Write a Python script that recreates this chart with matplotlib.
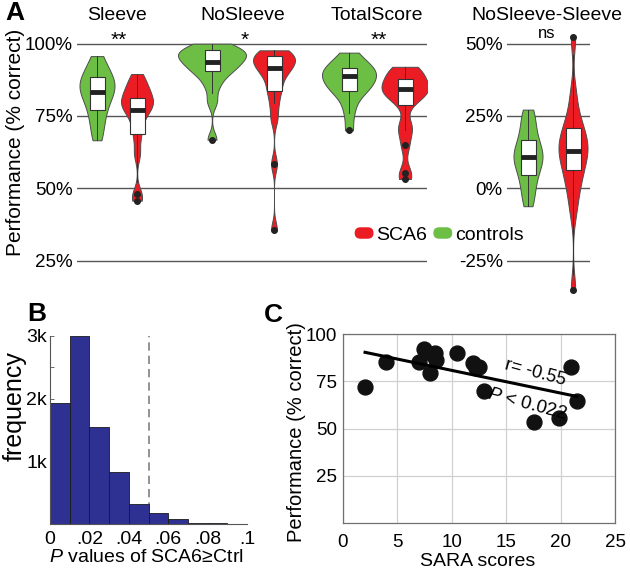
import numpy as np
import matplotlib
matplotlib.use("Agg")
import matplotlib.pyplot as plt
from matplotlib.patches import Patch, FancyBboxPatch
from matplotlib.legend_handler import HandlerPatch

plt.rcParams['font.family'] = ['Liberation Sans', 'DejaVu Sans']
plt.rcParams['mathtext.fontset'] = 'custom'
plt.rcParams['mathtext.it'] = 'Liberation Sans:italic'
plt.rcParams['mathtext.rm'] = 'Liberation Sans'

# ---------------- data ----------------
# panel A, per-subject performance (% correct), estimated from the violins
conditions = ["Sleeve", "NoSleeve", "TotalScore"]
signif = ["**", "*", "**"]
sleeve_ctrl = [66.6, 70, 73, 76, 78, 80, 82, 83, 84, 85, 86, 87, 88, 89, 91, 93, 95.7]
sleeve_sca6 = [45.7, 48, 62, 68, 72, 75, 77, 78, 79, 80, 81, 82, 84, 85, 87, 89.5]
nosleeve_ctrl = [66.8, 80, 85, 88, 90, 91, 92, 93, 94, 95, 95.5, 96, 97, 97.5, 98, 99, 100]
nosleeve_sca6 = [35.6, 58.4, 74, 79, 83, 85, 88, 90, 91, 92, 93, 94, 95, 95.5, 96, 97, 97.7]
total_ctrl = [70, 76, 80, 83, 84, 85, 86, 87, 88, 89, 90, 90.5, 91, 92, 93, 95, 96.9]
diff_ctrl = [-6.2, -3, 0, 3, 5, 7, 9, 10, 11, 12, 13, 15, 17, 19, 22, 25, 27.2]
diff_sca6 = [-35, -8, -2, 2, 5, 7, 10, 12, 13, 14, 16, 18, 20, 22, 26, 33, 52.2]

# box statistics: q1, median, q3, whisker low, whisker high, outliers
box_q1 = [77.1, 68.8, 90.7, 83.6, 83.6, 78.9]
box_med = [83.4, 77.1, 93.7, 91.7, 88.9, 84.2]
box_q3 = [88.4, 81.1, 97.8, 95.7, 91.7, 87.8]
box_lo = [66.6, 52, 82.8, 79.4, 76, 70]
box_hi = [95.7, 89.5, 100, 97.7, 96.9, 91.9]
box_out = [[], [48, 45.7], [66.8], [58.4, 35.6], [70], [65, 55.2, 53.1]]
dbox_q1 = [4.5, 6.2]
dbox_med = [10.9, 12.8]
dbox_q3 = [16.8, 20.9]
dbox_lo = [-6.2, -30]
dbox_hi = [27.2, 46]
dbox_out = [[], [52.2, -35]]

# panel B, histogram of P values
p_bins = [0, .01, .02, .03, .04, .05, .06, .07, .08, .09]
p_counts = [1930, 3000, 1545, 840, 320, 185, 85, 27, 16, 5]

# panel C, SCA6 total score vs SARA
sara = [2.05, 4.0, 7.0, 7.5, 8.0, 8.2, 8.5, 8.6, 10.5, 12.0, 12.2, 12.5, 13.0, 17.6, 19.9, 21.0, 21.5]
perf = [71.9, 85.5, 85.5, 92.0, 79.3, 89.5, 90.3, 86.4, 89.9, 84.6, 82.0, 82.8, 70.0, 53.2, 55.5, 82.5, 64.8]

GREEN = '#6dbe45'
RED = '#ec1c24'
NAVY = '#2e3192'
EDGE = '#4d4d4d'

W, H = 630, 577
fig = plt.figure(figsize=(W / 100, H / 100), dpi=100)


def rect(x0, y0, x1, y1):
    # pixel box -> figure fraction
    return [x0 / W, 1 - y1 / H, (x1 - x0) / W, (y1 - y0) / H]


def violins(ax, sets, pos, widths, bws, colors):
    for obs, x, w, bw, c in zip(sets, pos, widths, bws, colors):
        obs = np.asarray(obs, float)
        parts = ax.violinplot([obs], positions=[x], widths=[w], showextrema=False,
                              bw_method=bw / obs.std(ddof=1), points=200)
        b = parts['bodies'][0]
        b.set_facecolor(c)
        b.set_edgecolor(EDGE)
        b.set_linewidth(0.7)
        b.set_alpha(1)


def boxes(ax, pos, q1, med, q3, lo, hi, out):
    stats = [dict(q1=a, med=m, q3=b, whislo=l, whishi=h, fliers=f)
             for a, m, b, l, h, f in zip(q1, med, q3, lo, hi, out)]
    ax.bxp(stats, positions=pos, widths=15, patch_artist=True, showcaps=False,
           manage_ticks=False,
           boxprops=dict(facecolor='white', edgecolor='#333333', linewidth=0.8),
           medianprops=dict(color='#222222', linewidth=3.5, solid_capstyle='butt'),
           whiskerprops=dict(color='#333333', linewidth=0.7),
           flierprops=dict(marker='o', markerfacecolor='#222222',
                           markeredgecolor='#222222', markersize=4))


def grid_axis(ax):
    for s in ax.spines.values():
        s.set_visible(False)
    ax.tick_params(length=0, labelsize=13.5, pad=3)
    ax.set_xticks([])
    ax.yaxis.grid(True, color='#555555', linewidth=1)
    ax.set_axisbelow(True)


# ---------------- panel A ----------------
axA = fig.add_axes(rect(77, 26.3, 427, 296))
axA.set_xlim(0, 350)
axA.set_ylim(12.76, 106)
grid_axis(axA)
axA.set_yticks([25, 50, 75, 100])
axA.set_yticklabels(['25%', '50%', '75%', '100%'])

posA = [20, 60, 135, 197, 272, 328]
violins(axA, [sleeve_ctrl, sleeve_sca6, nosleeve_ctrl, nosleeve_sca6, total_ctrl, perf],
        posA, [35, 32, 68, 42, 54, 47], [4.0, 2.8, 2.4, 2.8, 3.0, 3.0],
        [GREEN, RED] * 3)
boxes(axA, posA, box_q1, box_med, box_q3, box_lo, box_hi, box_out)

for i, (name, st) in enumerate(zip(conditions, signif)):
    xc = (posA[2 * i] + posA[2 * i + 1]) / 2
    axA.text(xc, 109.6, name, ha='center', va='center', fontsize=14, clip_on=False)
    axA.text(xc + 2, 101.0, st, ha='center', va='center', fontsize=15, clip_on=False)

axD = fig.add_axes(rect(507, 26.3, 590, 296))
axD.set_xlim(0, 83)
axD.set_ylim(-37.24, 56)
grid_axis(axD)
axD.set_yticks([-25, 0, 25, 50])
axD.set_yticklabels(['-25%', '0%', '25%', '50%'])
posD = [21, 66]
violins(axD, [diff_ctrl, diff_sca6], posD, [29, 29], [4.0, 5.0], [GREEN, RED])
boxes(axD, posD, dbox_q1, dbox_med, dbox_q3, dbox_lo, dbox_hi, dbox_out)
axD.text(40, 59.6, "NoSleeve-Sleeve", ha='center', va='center', fontsize=14, clip_on=False)
axD.text(40, 53.5, "ns", ha='center', va='center', fontsize=12, clip_on=False)

fig.text(16 / W, 1 - 142 / H, 'Performance (% correct)', rotation=90,
         ha='center', va='center', fontsize=15)


class HandlerPill(HandlerPatch):
    def create_artists(self, legend, orig_handle, xdescent, ydescent,
                       width, height, fontsize, trans):
        h = height * 0.74
        p = FancyBboxPatch((-xdescent, -ydescent + (height - h) / 2), width, h,
                           boxstyle=f"round,pad=0,rounding_size={h / 2}",
                           facecolor=orig_handle.get_facecolor(),
                           edgecolor=orig_handle.get_facecolor(), transform=trans)
        return [p]


fig.legend(handles=[Patch(facecolor=RED), Patch(facecolor=GREEN)],
           labels=['SCA6', 'controls'], handler_map={Patch: HandlerPill()},
           loc='center', bbox_to_anchor=(439.5 / W, 1 - 235 / H), ncol=2,
           frameon=False, fontsize=14, handlelength=0.9, handletextpad=0.18,
           columnspacing=0.35, borderpad=0)

# ---------------- panel B ----------------
axB = fig.add_axes(rect(50, 336, 247, 524.3))
axB.bar(p_bins, p_counts, width=0.01, align='edge', color=NAVY,
        edgecolor='#1a1a1a', linewidth=0.6, zorder=2)
axB.axvline(0.05, color='#808080', linestyle=(0, (5, 3)), linewidth=1.2, zorder=1)
axB.set_xlim(0, 0.1)
axB.set_ylim(0, 3000)
for s in ['top', 'right']:
    axB.spines[s].set_visible(False)
for s in ['left', 'bottom']:
    axB.spines[s].set_color('#555555')
    axB.spines[s].set_linewidth(0.8)
axB.set_xticks([0, .02, .04, .06, .08, .1])
axB.set_xticklabels(['0', '.02', '.04', '.06', '.08', '.1'])
axB.set_yticks([1000, 2000, 3000])
axB.set_yticklabels(['1k', '2k', '3k'])
axB.set_yticks([500, 1500, 2500], minor=True)
axB.tick_params(axis='x', length=0, labelsize=14, pad=5)
axB.tick_params(axis='y', which='both', direction='in', length=3, width=0.6,
                color='#555555', labelsize=14, pad=2)
fig.text(146 / W, 1 - 557 / H, '$P$ values of SCA6≥Ctrl', ha='center', va='center', fontsize=14)
fig.text(15 / W, 1 - 406 / H, 'frequency', rotation=90, ha='center', va='center', fontsize=18)

# ---------------- panel C ----------------
axC = fig.add_axes(rect(342.7, 334.3, 615, 522.7))
axC.set_xlim(0, 25)
axC.set_ylim(0, 100)
axC.set_xticks([0, 5, 10, 15, 20, 25])
axC.set_yticks([25, 50, 75, 100])
axC.grid(True, color='#d0d0d0', linewidth=0.9)
axC.set_axisbelow(True)
for s in axC.spines.values():
    s.set_color('#707070')
    s.set_linewidth(0.9)
axC.tick_params(length=0, labelsize=13.5)
axC.tick_params(axis='x', pad=8)
axC.tick_params(axis='y', pad=4)
axC.scatter(sara, perf, s=115, color='#111111', zorder=3)
k, b0 = np.polyfit(sara, perf, 1)
xs = np.array([min(sara), max(sara)])
axC.plot(xs, k * xs + b0, color='black', linewidth=2.2, zorder=4)
axC.text(17.7, 79.5, 'r= -0.55', rotation=-15, rotation_mode='anchor',
         ha='center', va='center', fontsize=13, zorder=5)
axC.text(16.9, 62.8, '$P$ < 0.022', rotation=-15, rotation_mode='anchor',
         ha='center', va='center', fontsize=13.5, zorder=5)
fig.text(478 / W, 1 - 562 / H, 'SARA scores', ha='center', va='center', fontsize=14)
fig.text(296 / W, 1 - 432 / H, 'Performance (% correct)', rotation=90,
         ha='center', va='center', fontsize=14.5)

# panel letters
for letter, px, py in [('A', 15, 13), ('B', 37, 314), ('C', 273, 315)]:
    fig.text(px / W, 1 - py / H, letter, fontweight='bold', fontsize=19,
             ha='center', va='center')

fig.savefig('out.png', dpi=100)
